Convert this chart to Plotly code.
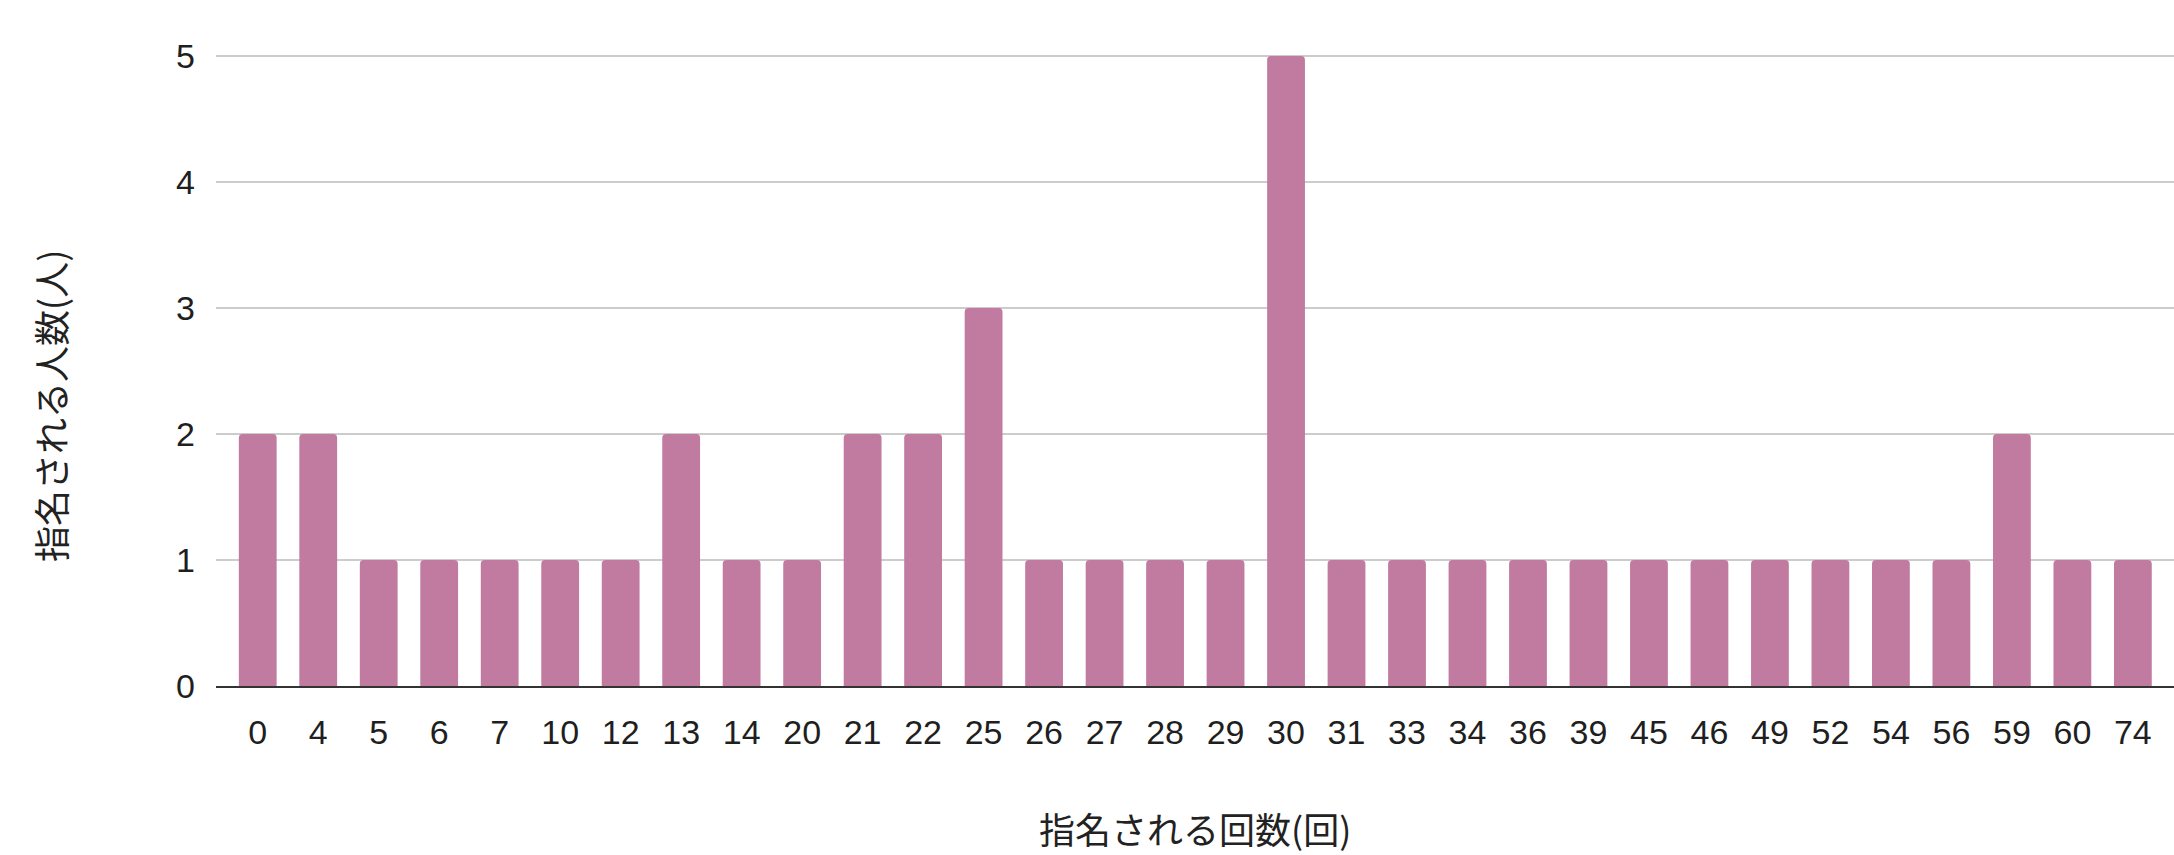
import plotly.graph_objects as go

categories = ["0", "4", "5", "6", "7", "10", "12", "13", "14", "20", "21", "22",
              "25", "26", "27", "28", "29", "30", "31", "33", "34", "36", "39",
              "45", "46", "49", "52", "54", "56", "59", "60", "74"]
counts = [2, 2, 1, 1, 1, 1, 1, 2, 1, 1, 2, 2,
          3, 1, 1, 1, 1, 5, 1, 1, 1, 1, 1,
          1, 1, 1, 1, 1, 1, 2, 1, 1]
y_ticks = [0, 1, 2, 3, 4, 5]
x_title = "指名される回数(回)"
y_title = "指名される人数(人)"

BAR = "#c27ba0"
TICK_FONT = dict(family="Liberation Sans, Arial, sans-serif", size=34, color="#1f1f1f")
CJK_FONT = dict(family="Noto Sans CJK JP, sans-serif", size=36, color="#222222")

fig = go.Figure(go.Bar(
    x=categories, y=counts,
    marker=dict(color=BAR, line=dict(width=0), cornerradius=4),
    hoverinfo="x+y",
))

fig.update_layout(
    width=2174, height=855,
    margin=dict(l=216, r=0, t=54, b=169),
    paper_bgcolor="white", plot_bgcolor="white",
    bargap=0.375,
    showlegend=False,
    xaxis=dict(
        type="category",
        categoryorder="array", categoryarray=categories,
        range=[-0.69, 31.68],
        showgrid=False,
        showline=True, linecolor="#333333", linewidth=2,
        tickfont=TICK_FONT,
        ticks="", ticklabelstandoff=15,
    ),
    yaxis=dict(
        range=[0, 5.016],
        tickvals=y_ticks,
        showgrid=True, gridcolor="#cccccc", gridwidth=2,
        zeroline=False, showline=False,
        tickfont=TICK_FONT,
        ticks="", ticklabelstandoff=20,
    ),
    annotations=[
        dict(text=x_title, xref="paper", yref="paper", x=0.5, y=0.0,
             yshift=-142, xanchor="center", yanchor="middle",
             showarrow=False, font=CJK_FONT),
        dict(text=y_title, xref="paper", yref="paper", x=0, y=0.5,
             xshift=-166, yshift=-36, xanchor="center", yanchor="middle",
             textangle=-90, showarrow=False, font=CJK_FONT),
    ],
)

fig.write_html("out.html")
